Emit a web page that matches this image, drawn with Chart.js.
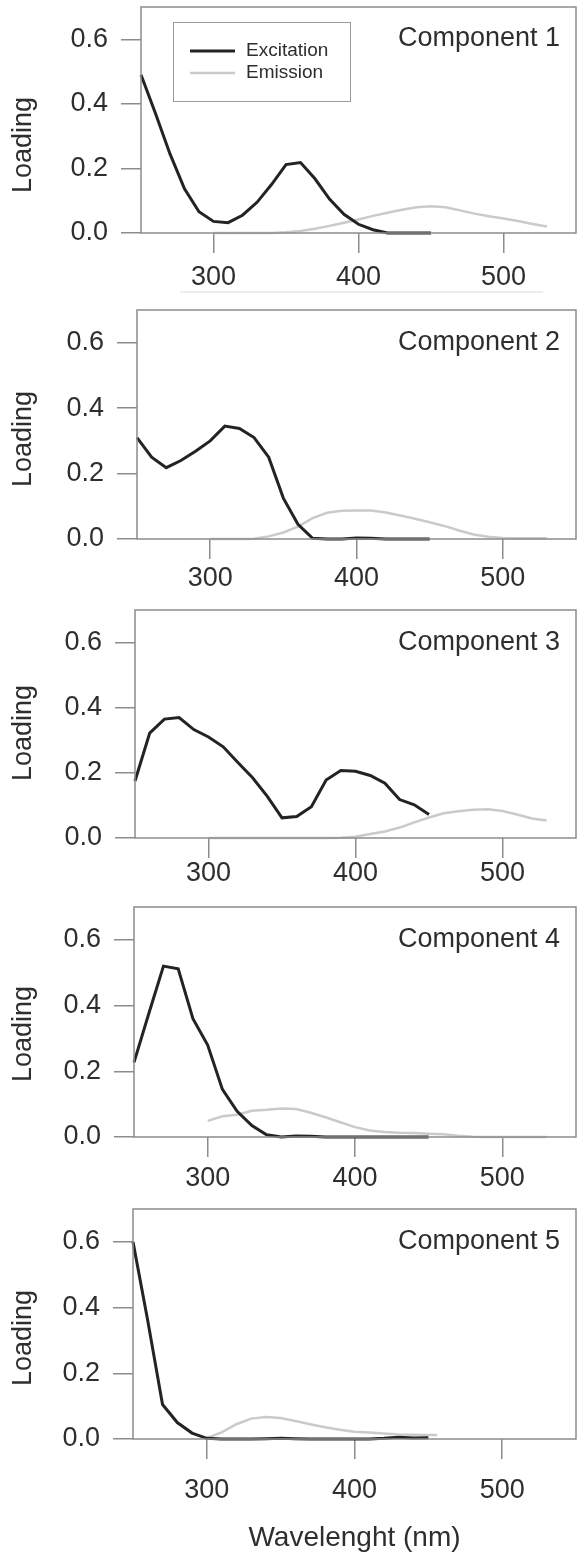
<!DOCTYPE html>
<html>
<head>
<meta charset="utf-8">
<script src="https://cdn.jsdelivr.net/npm/chart.js@4.4.1/dist/chart.umd.min.js"></script>
<style>
  body { margin: 0; background: #fff; }
  #wrap { position: relative; width: 577px; height: 1555px; overflow: hidden; }
  #wrap canvas { position: absolute; left: 0; }
</style>
</head>
<body>
<div id="wrap"></div>
<script>
// wavelengths (nm)
const excitationNm = [250, 260, 270, 280, 290, 300, 310, 320, 330, 340, 350, 360, 370, 380, 390, 400, 410, 420, 430, 440, 450];
const emissionNm = [300, 310, 320, 330, 340, 350, 360, 370, 380, 390, 400, 410, 420, 430, 440, 450, 460, 470, 480, 490, 500, 510, 520, 530];
const emission5Nm = [300, 310, 320, 330, 340, 350, 360, 370, 380, 390, 400, 410, 420, 430, 440, 450, 456];

// loadings
const ex1 = [0.49, 0.37, 0.245, 0.137, 0.066, 0.036, 0.032, 0.055, 0.095, 0.15, 0.212, 0.218, 0.168, 0.105, 0.058, 0.027, 0.01, 0, 0, 0, 0];
const em1 = [0, 0, 0, 0, 0, 0.002, 0.006, 0.013, 0.022, 0.032, 0.042, 0.053, 0.063, 0.072, 0.08, 0.083, 0.08, 0.07, 0.06, 0.052, 0.045, 0.037, 0.028, 0.02];
const ex2 = [0.31, 0.25, 0.218, 0.24, 0.268, 0.3, 0.345, 0.338, 0.31, 0.25, 0.125, 0.045, 0.002, 0, 0, 0.003, 0.002, 0, 0, 0, 0];
const em2 = [0, 0, 0, 0.001, 0.008, 0.02, 0.038, 0.064, 0.08, 0.086, 0.087, 0.087, 0.081, 0.072, 0.062, 0.051, 0.04, 0.026, 0.014, 0.007, 0.003, 0.002, 0.002, 0.002];
const ex3 = [0.175, 0.322, 0.365, 0.37, 0.333, 0.31, 0.28, 0.232, 0.185, 0.128, 0.062, 0.066, 0.096, 0.178, 0.207, 0.205, 0.192, 0.168, 0.118, 0.102, 0.072];
const em3 = [0, 0, 0, 0, 0, 0, 0, 0, 0, 0.001, 0.004, 0.012, 0.02, 0.032, 0.048, 0.063, 0.076, 0.082, 0.087, 0.088, 0.083, 0.072, 0.06, 0.054];
const ex4 = [0.227, 0.375, 0.52, 0.512, 0.36, 0.28, 0.145, 0.078, 0.035, 0.007, 0, 0.003, 0.002, 0, 0, 0, 0, 0, 0, 0, 0];
const em4 = [0.049, 0.063, 0.068, 0.08, 0.083, 0.087, 0.085, 0.074, 0.06, 0.045, 0.03, 0.02, 0.015, 0.013, 0.012, 0.01, 0.008, 0.004, 0.001, 0, 0, 0, 0, 0];
const ex5 = [0.6, 0.36, 0.105, 0.05, 0.018, 0.002, 0, 0, 0, 0.001, 0.002, 0.001, 0, 0, 0, 0, 0, 0.002, 0.005, 0.003, 0.004];
const em5 = [0.003, 0.02, 0.045, 0.062, 0.067, 0.064, 0.055, 0.045, 0.036, 0.028, 0.022, 0.02, 0.017, 0.014, 0.013, 0.012, 0.012];

const componentNames = ["Component 1", "Component 2", "Component 3", "Component 4", "Component 5"];
const xTickValues = [300, 400, 500];
const yTickValues = [0, 0.2, 0.4, 0.6];
const seriesLabels = ["Excitation", "Emission"];

const FONT = "'Liberation Sans', Arial, sans-serif";
const TEXT = "#2e2e2e";
const AXIS = "#8c8c8c";
const EX_COLOR = "#232323";
const EM_COLOR = "#cacaca";

// panel layout in page pixels
const panels = [
    { ex: ex1, em: em1, emNm: emissionNm, top: 7, bottom: 233, left: 141, labelOff: 44, loadOff: 88, legend: true, underline: true },
    { ex: ex2, em: em2, emNm: emissionNm, top: 310, bottom: 539, left: 137, labelOff: 39, loadOff: 100 },
    { ex: ex3, em: em3, emNm: emissionNm, top: 610, bottom: 838, left: 135, labelOff: 35, loadOff: 105 },
    { ex: ex4, em: em4, emNm: emissionNm, top: 907, bottom: 1137, left: 134, labelOff: 41, loadOff: 103 },
    { ex: ex5, em: em5, emNm: emission5Nm, top: 1209, bottom: 1439, left: 133, labelOff: 51, loadOff: 101, xTitle: true }
];

const decorPlugin = {
    id: "decor",
    afterDraw(chart, args, opts) {
        const ctx = chart.ctx;
        const a = chart.chartArea;
        const yScale = chart.scales.y;
        ctx.save();
        // box
        ctx.strokeStyle = AXIS;
        ctx.lineWidth = 1.5;
        ctx.strokeRect(a.left, a.top, a.right - a.left, a.bottom - a.top);

        // component name
        ctx.fillStyle = TEXT;
        ctx.font = "27px " + FONT;
        ctx.textAlign = "right";
        ctx.textBaseline = "alphabetic";
        ctx.fillText(opts.name, 560, yScale.getPixelForValue(0.6) + 7);

        // y title
        ctx.save();
        ctx.translate(24, yScale.getPixelForValue(0) - opts.loadOff);
        ctx.rotate(-Math.PI / 2);
        ctx.textAlign = "center";
        ctx.textBaseline = "middle";
        ctx.fillText("Loading", 0, 0);
        ctx.restore();

        if (opts.legend) {
            const oy = opts.offsetY;
            ctx.strokeStyle = "#9a9a9a";
            ctx.lineWidth = 1;
            ctx.strokeRect(173.5, 22.5 - oy, 177, 79);
            ctx.font = "19px " + FONT;
            ctx.textAlign = "left";
            ctx.textBaseline = "middle";
            chart.data.datasets.forEach((ds, i) => {
                const ly = (i === 0 ? 51 : 73) - oy;
                ctx.strokeStyle = ds.borderColor;
                ctx.lineWidth = ds.borderWidth;
                ctx.beginPath();
                ctx.moveTo(190, ly);
                ctx.lineTo(235, ly);
                ctx.stroke();
                ctx.fillStyle = TEXT;
                ctx.fillText(ds.label, 246, ly);
            });
        }
        if (opts.underline) {
            ctx.strokeStyle = "#dcdcdc";
            ctx.lineWidth = 1;
            ctx.beginPath();
            ctx.moveTo(180, 292 - opts.offsetY);
            ctx.lineTo(543, 292 - opts.offsetY);
            ctx.stroke();
        }
        ctx.restore();
    }
};

const wrap = document.getElementById("wrap");

panels.forEach((p, idx) => {
    const canvasTop = Math.max(0, p.top - 10);
    const xAxisH = p.xTitle ? 116 : 62;
    const height = p.bottom + xAxisH - canvasTop;
    const canvas = document.createElement("canvas");
    canvas.width = 577;
    canvas.height = height;
    canvas.style.top = canvasTop + "px";
    wrap.appendChild(canvas);

    new Chart(canvas.getContext("2d"), {
        type: "line",
        data: {
            datasets: [
                {
                    label: seriesLabels[0],
                    data: excitationNm.map((nm, i) => ({ x: nm, y: p.ex[i] })),
                    borderColor: EX_COLOR,
                    borderWidth: 3,
                    pointRadius: 0,
                    tension: 0,
                    clip: false
                },
                {
                    label: seriesLabels[1],
                    data: p.emNm.map((nm, i) => ({ x: nm, y: p.em[i] })),
                    borderColor: EM_COLOR,
                    borderWidth: 2.5,
                    pointRadius: 0,
                    tension: 0,
                    clip: false
                }
            ]
        },
        options: {
            responsive: false,
            animation: false,
            devicePixelRatio: 1,
            layout: { padding: { top: p.top - canvasTop, right: 1, left: 0, bottom: 0 } },
            plugins: {
                legend: { display: false },
                tooltip: { enabled: false },
                decor: {
                    name: componentNames[idx],
                    loadOff: p.loadOff,
                    legend: !!p.legend,
                    underline: !!p.underline,
                    offsetY: canvasTop
                }
            },
            scales: {
                x: {
                    type: "linear",
                    min: 250,
                    max: 550,
                    afterBuildTicks: s => { s.ticks = xTickValues.map(v => ({ value: v })); },
                    afterFit: s => {
                        s.height = xAxisH;
                        s.paddingLeft = 0;
                        s.paddingRight = 0;
                    },
                    grid: { drawOnChartArea: false, tickLength: 20, color: AXIS, lineWidth: 1.5 },
                    border: { display: false },
                    ticks: {
                        color: TEXT,
                        font: { family: FONT, size: 27 },
                        padding: p.labelOff - 36,
                        maxRotation: 0
                    },
                    title: {
                        display: !!p.xTitle,
                        text: "Wavelenght (nm)",
                        color: TEXT,
                        font: { family: FONT, size: 28 },
                        padding: { top: 0, bottom: 0 }
                    }
                },
                y: {
                    min: 0,
                    max: 0.7,
                    afterBuildTicks: s => { s.ticks = yTickValues.map(v => ({ value: v })); },
                    afterFit: s => {
                        s.width = p.left;
                        s.paddingTop = 0;
                        s.paddingBottom = 0;
                    },
                    grid: { drawOnChartArea: false, tickLength: 20, color: AXIS, lineWidth: 1.5 },
                    border: { display: false },
                    ticks: {
                        color: TEXT,
                        font: { family: FONT, size: 27 },
                        padding: 13,
                        callback: v => v.toFixed(1)
                    }
                }
            }
        },
        plugins: [decorPlugin]
    });
});
</script>
</body>
</html>
